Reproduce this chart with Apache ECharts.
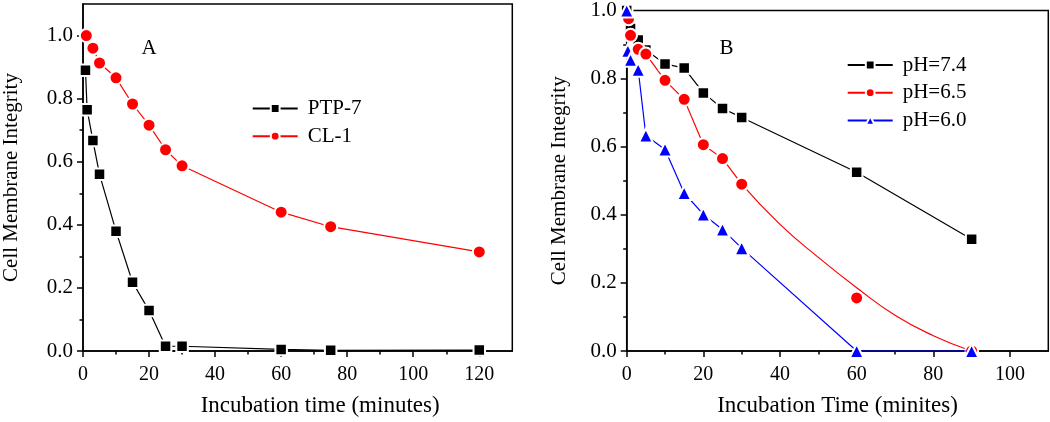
<!DOCTYPE html>
<html><head><meta charset="utf-8">
<script src="https://cdn.jsdelivr.net/npm/echarts@6/dist/echarts.min.js"></script>
<style>html,body{margin:0;padding:0;background:#fff}#c{width:1050px;height:422px}</style>
</head><body><div id="c"></div>
<script>
// ---- Panel A ----
const timePTP = [0.75, 1.25, 3, 5, 10, 15, 20, 25, 30, 60, 75, 120];
const ptp7    = [0.89, 0.765, 0.667, 0.56, 0.38, 0.218, 0.128, 0.015, 0.015, 0.005, 0.002, 0.003];
const timeCL  = [1, 3, 5, 10, 15, 20, 25, 30, 60, 75, 120];
const cl1     = [1.0, 0.96, 0.913, 0.866, 0.783, 0.716, 0.638, 0.587, 0.44, 0.394, 0.314];
// ---- Panel B ----
const time74 = [0, 1, 3, 5, 10, 15, 20, 25, 30, 60, 90];
const ph74   = [1.0, 0.947, 0.913, 0.884, 0.843, 0.831, 0.758, 0.712, 0.686, 0.525, 0.328];
const time65 = [0.5, 1, 3, 5, 10, 15, 20, 25, 30, 60, 90];
const ph65   = [0.976, 0.927, 0.886, 0.872, 0.795, 0.739, 0.606, 0.565, 0.49, 0.156, 0.0];
// fitted curve drawn for pH=6.5 beyond 30 min
const fitTime65 = [30, 40, 50, 60, 70, 80, 90];
const fit65     = [0.49, 0.372, 0.275, 0.186, 0.105, 0.045, 0.0];
const time60 = [0, 0.3, 1, 3, 5, 10, 15, 20, 25, 30, 60, 90];
const ph60   = [1.0, 0.882, 0.855, 0.826, 0.633, 0.592, 0.464, 0.401, 0.357, 0.302, 0.0, 0.0];
// ---- ticks ----
const xTicksA = [0, 20, 40, 60, 80, 100, 120];
const xMinorA = [10, 30, 50, 70, 90, 110];
const xTicksB = [0, 20, 40, 60, 80, 100];
const xMinorB = [10, 30, 50, 70, 90];
const yTicks  = [0, 0.2, 0.4, 0.6, 0.8, 1.0];
const yMinor  = [0.1, 0.3, 0.5, 0.7, 0.9];

const FONT = '"Liberation Serif", "Times New Roman", serif';
const zip = (xs, ys) => xs.map((x, i) => [x, ys[i]]);

function majorX(grid, max, ticks, name, shift) {
  return {
    gridIndex: grid, type: 'value', min: 0, max: max, position: 'bottom',
    axisLine: { show: true, onZero: false, lineStyle: { color: '#000', width: 1.5 } },
    axisTick: { show: true, customValues: ticks, length: 6, lineStyle: { color: '#000', width: 1.5 } },
    axisLabel: { customValues: ticks, color: '#000', fontFamily: FONT, fontSize: 20, margin: 14 },
    splitLine: { show: false },
    name: name, nameLocation: 'middle', nameGap: 43,
    nameTextStyle: { color: '#000', fontFamily: FONT, fontSize: 23, padding: [0, 0, 0, shift] }
  };
}
function minorX(grid, max, ticks) {
  return {
    gridIndex: grid, type: 'value', min: 0, max: max, position: 'bottom',
    axisLine: { show: false },
    axisTick: { show: true, customValues: ticks, length: 3.5, lineStyle: { color: '#000', width: 1.5 } },
    axisLabel: { show: false }, splitLine: { show: false }
  };
}
function majorY(grid, max, nameGap) {
  return {
    gridIndex: grid, type: 'value', min: 0, max: max, position: 'left',
    axisLine: { show: true, onZero: false, lineStyle: { color: '#000', width: 1.5 } },
    axisTick: { show: true, customValues: yTicks, length: 6, lineStyle: { color: '#000', width: 1.5 } },
    axisLabel: { customValues: yTicks, color: '#000', fontFamily: FONT, fontSize: 21, margin: 10,
      formatter: v => Number(v).toFixed(1) },
    splitLine: { show: false },
    name: 'Cell Membrane Integrity', nameLocation: 'middle', nameGap: nameGap,
    nameTextStyle: { color: '#000', fontFamily: FONT, fontSize: 21 }
  };
}
function minorY(grid, max) {
  return {
    gridIndex: grid, type: 'value', min: 0, max: max, position: 'left',
    axisLine: { show: false },
    axisTick: { show: true, customValues: yMinor, length: 3.5, lineStyle: { color: '#000', width: 1.5 } },
    axisLabel: { show: false }, splitLine: { show: false }
  };
}
function lineSeries(name, xi, yi, data, color, symbol, size, extra) {
  return Object.assign({
    name: name, type: 'line', xAxisIndex: xi, yAxisIndex: yi, data: data,
    symbol: symbol, symbolSize: size, showAllSymbol: true, clip: false,
    lineStyle: { color: color, width: 1.2 },
    itemStyle: { color: color, borderColor: '#fff', borderWidth: 2, opacity: 1 },
    emphasis: { disabled: true }
  }, extra || {});
}

const pts65 = zip(time65, ph65);
const legendText = { color: '#000', fontFamily: FONT, fontSize: 21, lineHeight: 20, padding: [0, 0, 0, 5] };
const option = {
  animation: false,
  backgroundColor: '#fff',
  grid: [
    { left: 82.7, top: 4, width: 429.6, height: 350, show: true, borderColor: '#000', borderWidth: 1.5 },
    { left: 626.7, top: 8.3, width: 421.6, height: 345, show: true, borderColor: '#000', borderWidth: 1.5 }
  ],
  xAxis: [
    majorX(0, 130, xTicksA, 'Incubation time (minutes)', 45),
    minorX(0, 130, xMinorA),
    majorX(1, 110, xTicksB, 'Incubation Time (minites)', 0),
    minorX(1, 110, xMinorB)
  ],
  yAxis: [
    majorY(0, 1.1, 61),
    minorY(0, 1.1),
    majorY(1, 1.0, 57),
    minorY(1, 1.0)
  ],
  legend: [
    { data: ['PTP-7', 'CL-1'], orient: 'vertical', left: 246.7, top: 93, itemWidth: 45, itemHeight: 11,
      itemGap: 6.7, selectedMode: false, textStyle: legendText },
    { data: ['pH=7.4', 'pH=6.5', 'pH=6.0'], orient: 'vertical', left: 841.7, top: 49.5, itemWidth: 45, itemHeight: 11,
      itemGap: 6.7, selectedMode: false, textStyle: legendText }
  ],
  graphic: [
    { type: 'text', x: 149, y: 48, style: { text: 'A', font: '21px ' + FONT, fill: '#000', align: 'center', verticalAlign: 'middle' } },
    { type: 'text', x: 726.5, y: 48, style: { text: 'B', font: '21px ' + FONT, fill: '#000', align: 'center', verticalAlign: 'middle' } }
  ],
  series: [
    lineSeries('PTP-7', 0, 0, zip(timePTP, ptp7), '#000', 'rect', 11.5),
    lineSeries('CL-1', 0, 0, zip(timeCL, cl1), '#ff0000', 'circle', 13),
    lineSeries('pH=7.4', 2, 2, zip(time74, ph74), '#000', 'rect', 11.5),
    lineSeries('pH=6.5', 2, 2, pts65.filter(p => p[0] <= 30), '#ff0000', 'circle', 13),
    lineSeries('pH=6.5 fit', 2, 2, zip(fitTime65, fit65), '#ff0000', 'none', 0, { smooth: true, z: 1 }),
    { name: 'pH=6.5 late', type: 'scatter', xAxisIndex: 2, yAxisIndex: 2, data: pts65.filter(p => p[0] > 30),
      symbol: 'circle', symbolSize: 13, clip: false,
      itemStyle: { color: '#ff0000', borderColor: '#fff', borderWidth: 2, opacity: 1 }, emphasis: { disabled: true } },
    lineSeries('pH=6.0', 2, 2, zip(time60, ph60), '#0000ff', 'triangle', 14)
  ]
};
const chart = echarts.init(document.getElementById('c'), null, { renderer: 'canvas' });
chart.setOption(option);
</script></body></html>
